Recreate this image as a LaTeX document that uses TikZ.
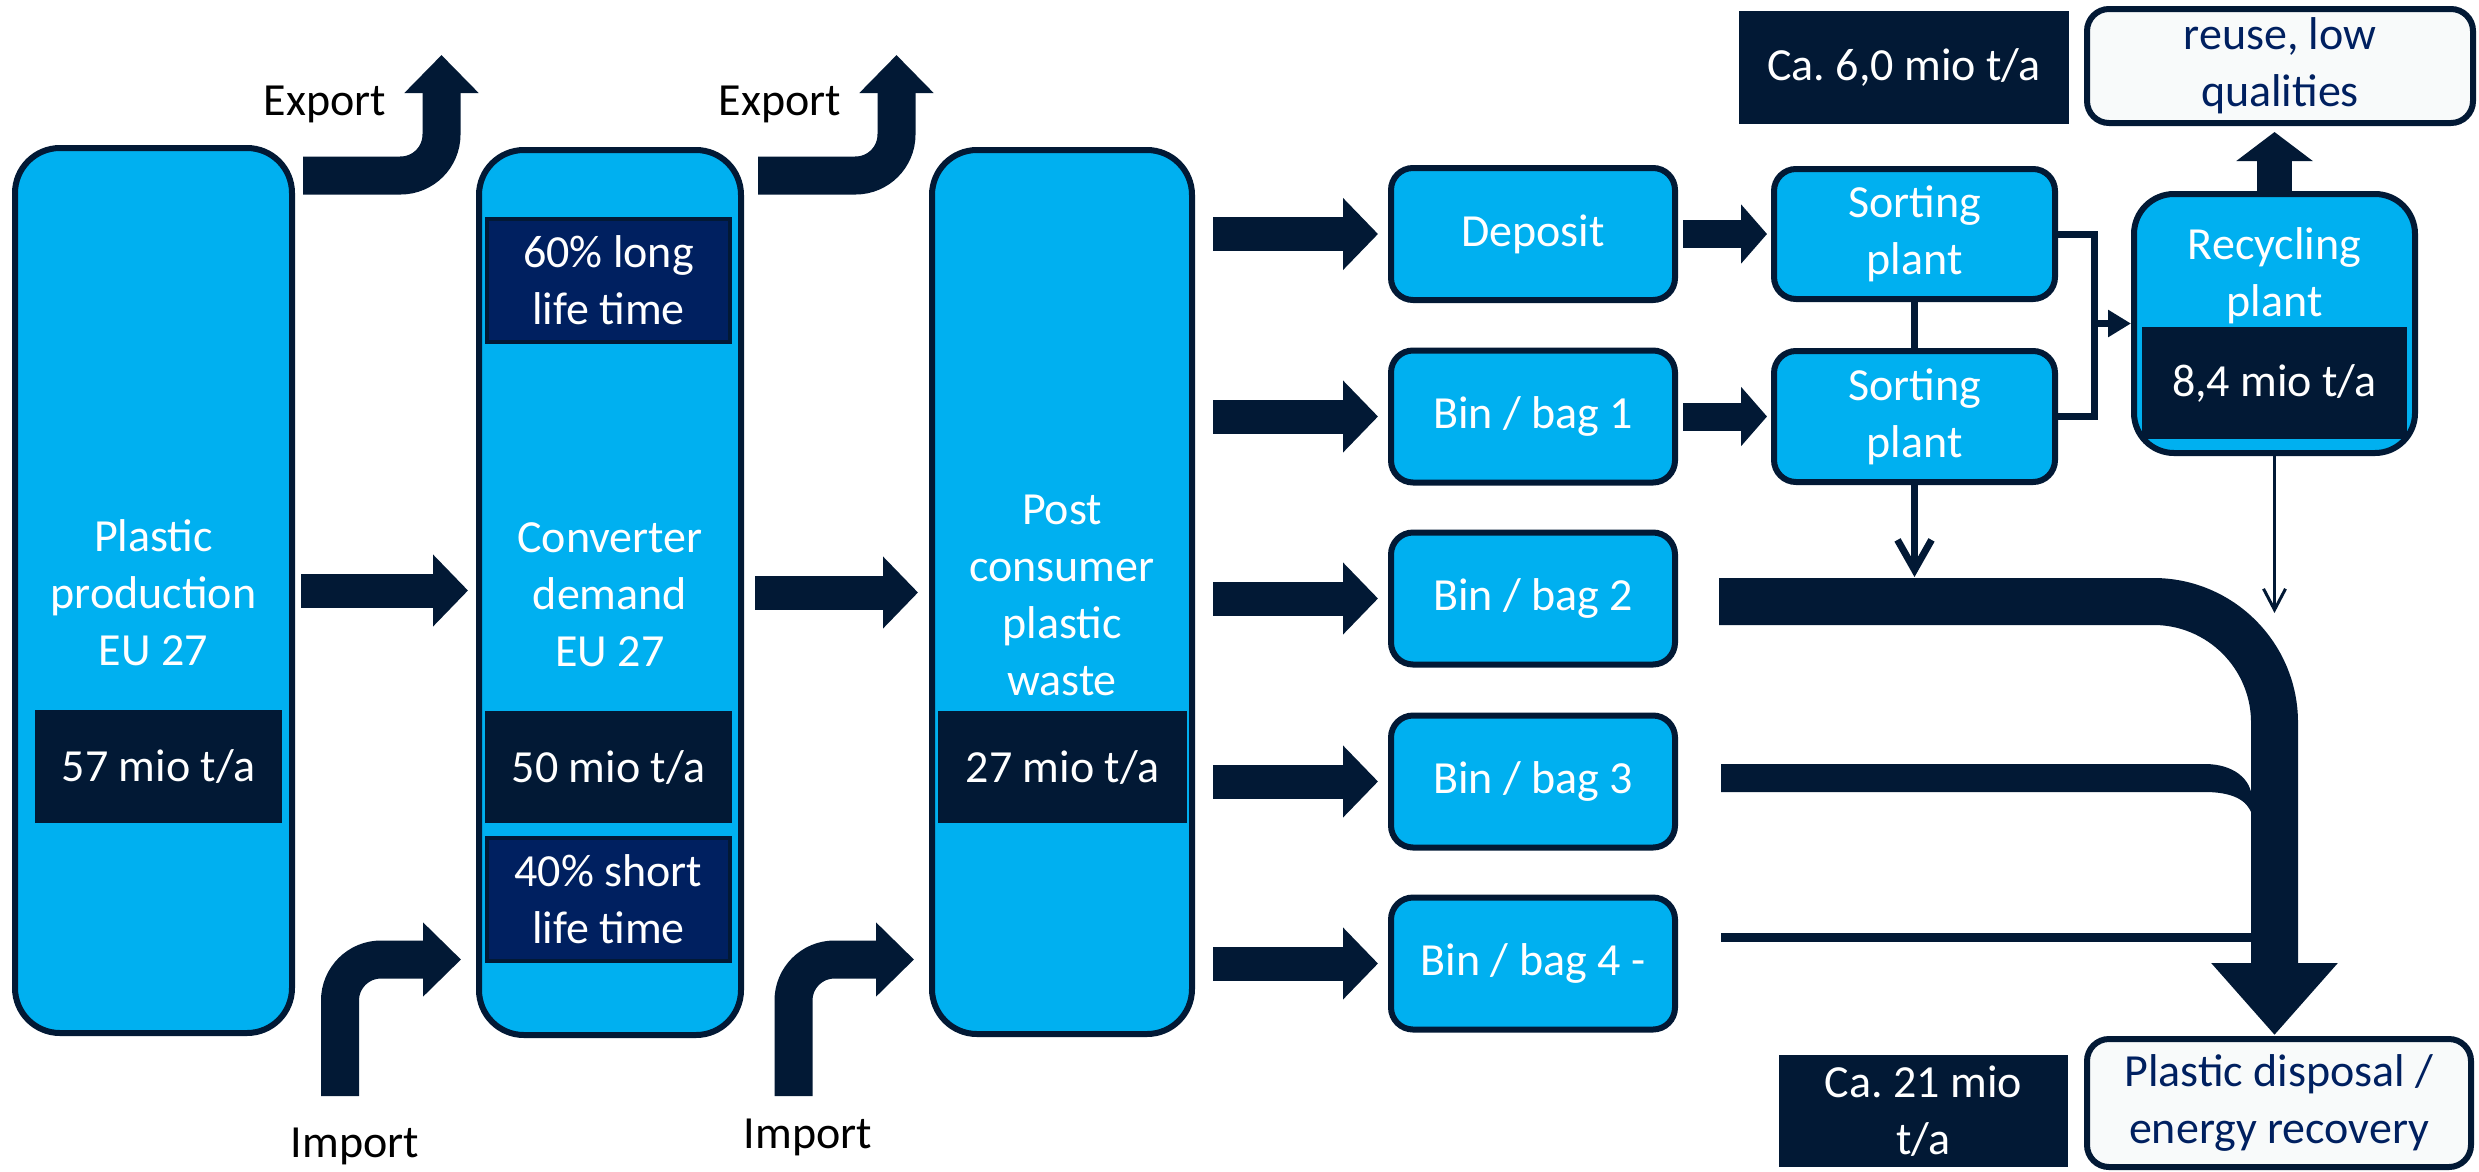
\documentclass[tikz,border=0pt]{standalone}
\usepackage{fontspec}
\setmainfont{Carlito}
\usetikzlibrary{arrows.meta}
\definecolor{lblue}{RGB}{0,176,240}
\definecolor{dnavy}{RGB}{2,25,53}
\definecolor{navy}{RGB}{0,32,96}
\definecolor{paper}{RGB}{248,250,250}
\frenchspacing
\begin{document}
\begin{tikzpicture}[x=1pt,y=-1pt,
  txt/.style={font=\fontsize{46}{57}\selectfont, align=center, inner sep=0pt},
  bluebox/.style={txt, draw=dnavy, line width=6pt, fill=lblue, text=white, rounded corners=#1},
  bluebox/.default=22pt,
  valbox/.style={txt, fill=dnavy, draw=dnavy, line width=2pt, text=white},
  navybox/.style={txt, fill=navy, draw=dnavy, line width=4pt, text=white},
  whitebox/.style={txt, fill=paper, draw=dnavy, line width=6pt, text=navy, rounded corners=22pt},
  flowarrow/.style={draw=dnavy, line width=34pt, -{Triangle[width=70pt,length=35pt]}},
  smallflow/.style={draw=dnavy, line width=28pt, -{Triangle[width=58pt,length=26pt]}},
  bendflow/.style={draw=dnavy, line width=38pt, rounded corners=41pt, -{Triangle[width=72pt,length=38pt]}},
  lbl/.style={txt, text=black, anchor=base},
]
\useasboundingbox (0,0) rectangle (2479,1171);
\fill[white] (0,0) rectangle (2479,1171);

% big boxes
\node[bluebox=45pt, minimum width=277pt, minimum height=885pt] (prod) at (153.5,590.5) {};
\node[bluebox=45pt, minimum width=262pt, minimum height=885pt] (conv) at (610,592.5) {};
\node[bluebox=45pt, minimum width=260pt, minimum height=884pt] (post) at (1062,592) {};
\node[txt, text=white] (prodlbl) at (153.5,593) {Plastic\\production\\EU 27};
\node[txt, text=white] (convlbl) at (610,595) {Converter\\demand\\EU 27};
\node[txt, text=white] (postlbl) at (1062,595) {Post\\consumer\\plastic\\waste};

\node[valbox, minimum width=245pt, minimum height=111pt] (v57) at (158.5,766.5) {57 mio t/a};
\node[valbox, minimum width=245pt, minimum height=110pt] (v50) at (608.5,767) {50 mio t/a};
\node[valbox, minimum width=247pt, minimum height=110pt] (v27) at (1062.5,767) {27 mio t/a};
\node[navybox, minimum width=243pt, minimum height=123pt] (long) at (608.5,280.5) {60\% long\\life time};
\node[navybox, minimum width=243pt, minimum height=123pt] (short) at (608.5,899.5) {40\% short\\life time};

% collection boxes
\node[bluebox, minimum width=284pt, minimum height=132pt] (dep) at (1533,234) {Deposit};
\node[bluebox, minimum width=284pt, minimum height=132pt] (bin1) at (1533,416.5) {Bin / bag 1};
\node[bluebox, minimum width=284pt, minimum height=132pt] (bin2) at (1533,598.5) {Bin / bag 2};
\node[bluebox, minimum width=284pt, minimum height=132pt] (bin3) at (1533,781.5) {Bin / bag 3};
\node[bluebox, minimum width=284pt, minimum height=132pt] (bin4) at (1533,963.5) {Bin / bag 4 -};

\node[bluebox, minimum width=281pt, minimum height=130pt] (sort1) at (1914.5,234) {Sorting\\plant};
\node[bluebox, minimum width=281pt, minimum height=131pt] (sort2) at (1914.5,416.5) {Sorting\\plant};
\node[bluebox=40pt, minimum width=281pt, minimum height=259pt] (recyc) at (2274.5,323.5) {};
\node[txt, text=white] (recyclbl) at (2274.5,275.5) {Recycling\\plant};
\node[valbox, minimum width=263pt, minimum height=110pt] (v84) at (2274.5,383) {8,4 mio t/a};

\node[valbox, minimum width=328pt, minimum height=111pt] (ca6) at (1904,67.5) {Ca. 6,0 mio t/a};
\node[whitebox, minimum width=386pt, minimum height=114pt] (reuse) at (2280,66) {reuse, low\\qualities};
\node[valbox, minimum width=287pt, minimum height=110pt] (ca21) at (1923.5,1111) {Ca. 21 mio\\t/a};
\node[whitebox, minimum width=384pt, minimum height=128pt] (disp) at (2279,1103) {Plastic disposal /\\energy recovery};

% export / import labels
\node[lbl] (ex1l) at (325,115) {Export};
\node[lbl] (ex2l) at (780,115) {Export};
\node[lbl] (im1l) at (355,1157) {Import};
\node[lbl] (im2l) at (808,1148) {Import};

% export / import arrows
\coordinate (ex1s) at (303,175.5);
\coordinate (ex1t) at (441.5,55);
\coordinate (ex2s) at (758,175.5);
\coordinate (ex2t) at (896.5,55);
\coordinate (im1s) at (340,1096);
\coordinate (im1t) at (461,959.5);
\coordinate (im2s) at (793.5,1096);
\coordinate (im2t) at (914,959.5);
\draw[bendflow] (ex1s) -- (ex1s -| ex1t) -- (ex1t);
\draw[bendflow] (ex2s) -- (ex2s -| ex2t) -- (ex2t);
\draw[bendflow] (im1s) -- (im1s |- im1t) -- (im1t);
\draw[bendflow] (im2s) -- (im2s |- im2t) -- (im2t);

% main flow arrows
\draw[flowarrow, shorten <=6pt, shorten >=8pt] (prod.east) -- (prod.east -| conv.west);
\draw[flowarrow, shorten <=11pt, shorten >=11pt] (conv.east) -- (conv.east -| post.west);
\foreach \b in {dep,bin1,bin2,bin3,bin4}
  \draw[flowarrow, shorten <=18pt, shorten >=10pt] (post.east |- \b.west) -- (\b.west);
\draw[smallflow, shorten <=5pt, shorten >=4pt] (dep.east) -- (sort1.west);
\draw[smallflow, shorten <=5pt, shorten >=4pt] (bin1.east) -- (sort2.west);

% sorting connections
\coordinate (br1) at (2094,234);
\coordinate (br2) at (2094,416.5);
\draw[dnavy, line width=7pt] (sort1.south) -- (sort2.north);
\draw[dnavy, line width=7pt] (sort1.east) -- (br1) -- (br2) -- (sort2.east);
\draw[dnavy, line width=7pt, -{Triangle[width=26pt,length=23pt]}] (br1 |- recyc.west) -- (recyc.west);
\draw[dnavy, line width=35pt, -{Triangle[width=75pt,length=29pt]}, shorten >=6pt] (recyc.north) -- (recyc.north |- reuse.south);

% disposal flows
\coordinate (b2s) at (1719,601.5);
\coordinate (dispin) at (2274.5,1035);
\coordinate (s2t) at (1914.5,577);
\coordinate (rct) at (2274.5,613);
\fill[dnavy] (1721,764) -- (2205,764) .. controls (2232,764) and (2252,778) .. (2252,800) -- (2252,815) .. controls (2248,800) and (2232,792) .. (2205,792) -- (1721,792) -- cycle;
\fill[dnavy] (1721,933) rectangle (2262,942);
\draw[dnavy, line width=47pt, rounded corners=121pt, -{Triangle[width=122pt,length=72pt]}] (b2s) -- (b2s -| dispin) -- (dispin);
\draw[dnavy, line width=7pt, -{Straight Barb[length=30pt,width=34pt]}] (sort2.south) -- (s2t);
\draw[dnavy, line width=3pt, -{Straight Barb[length=21pt,width=22pt]}] (recyc.south) -- (rct);
\end{tikzpicture}
\end{document}
